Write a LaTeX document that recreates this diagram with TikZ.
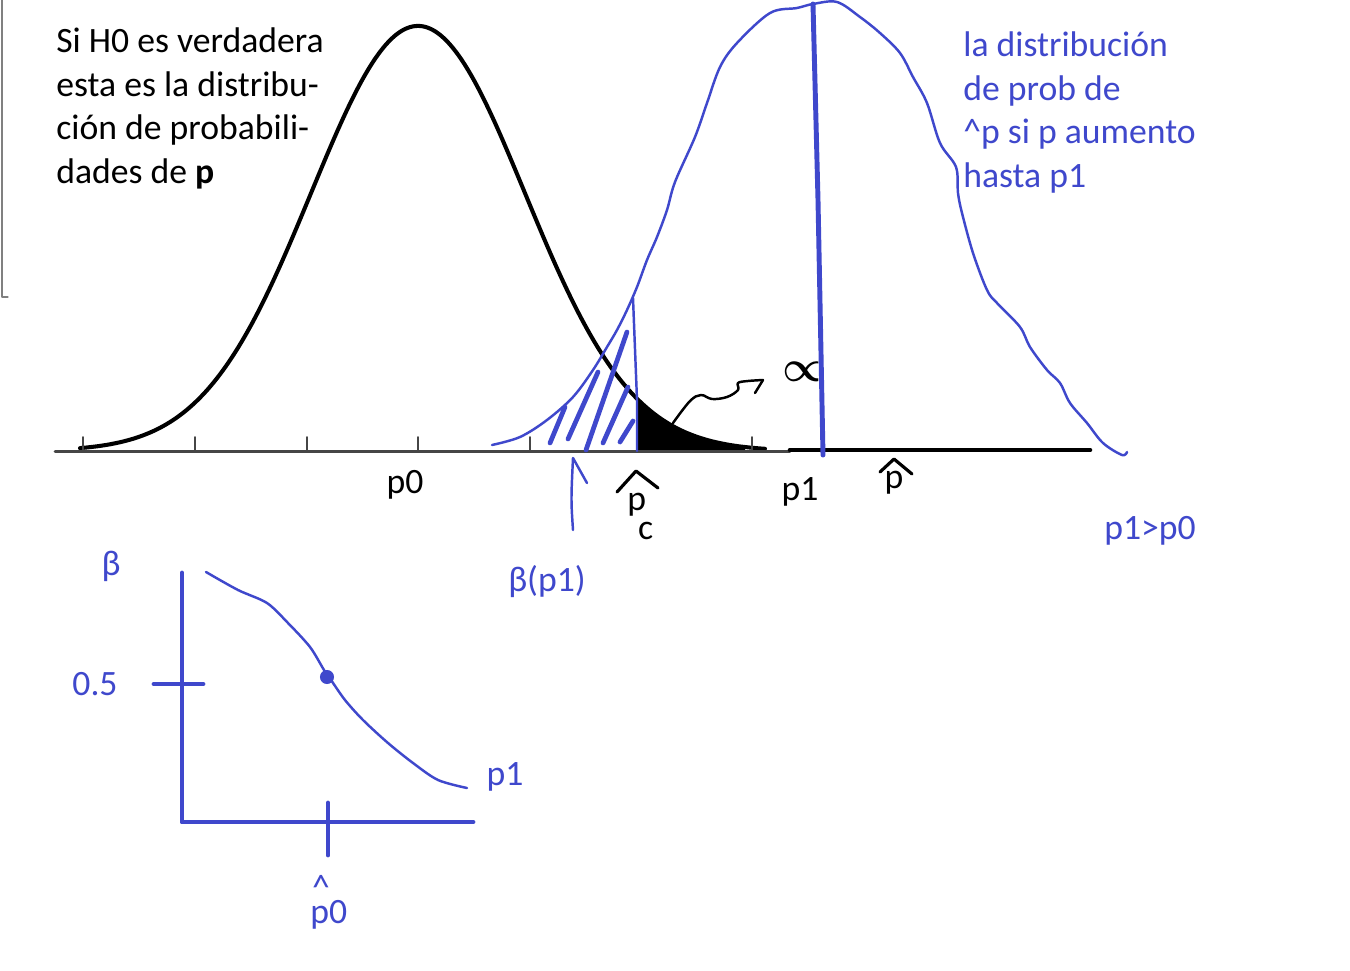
\documentclass[tikz,border=0pt]{standalone}
\usepackage{fontspec}
\setmainfont{Carlito}
\usetikzlibrary{positioning, calc}
\definecolor{penblue}{RGB}{63,72,204}
\definecolor{axisgray}{RGB}{70,70,70}

\begin{document}
\begin{tikzpicture}[x=0.02cm, y=-0.02cm, line cap=round, line join=round]
    \tikzset{
        lbl/.style={inner sep=0pt, font=\fontsize{20.3}{25}\selectfont},
        bluelbl/.style={lbl, text=penblue},
        pen/.style={penblue, line width=1.4pt},
        thickpen/.style={penblue, line width=2.8pt},
        hatch/.style={penblue, line width=2.7pt},
        hat/.style={line width=1.8pt},
    }

    % --- Page ---
    \fill[white] (0,0) rectangle (1350,971);
    \useasboundingbox (0,0) rectangle (1350,971);
    \draw[gray, line width=0.6pt] (2,0) -- (2,297) -- (8,297);

    % --- Black curve (H0 true) and the alpha area ---
    \fill plot[domain=637:745, samples=30] (\x, {451-425*exp(-0.5*((\x-418)/107)*((\x-418)/107))}) -- (745,451) -- (637,451) -- cycle;
    \draw[line width=2.3pt] plot[domain=80:765, samples=140, smooth] (\x, {451-425*exp(-0.5*((\x-418)/107)*((\x-418)/107))});

    % --- Horizontal axis with its ticks ---
    \draw[axisgray, line width=1.7pt] (55,451) -- (790,451);
    \draw[line width=2.6pt] (790,450) -- (1090,450);
    \draw[axisgray, line width=1.1pt] (83,451) -- (83,437);
    \draw[axisgray, line width=1.1pt] (195,451) -- (195,437);
    \draw[axisgray, line width=1.1pt] (307,451) -- (307,437);
    \draw[axisgray, line width=1.1pt] (418,451) -- (418,437);
    \draw[axisgray, line width=1.1pt] (530,451) -- (530,437);
    \draw[axisgray, line width=1.1pt] (752,451) -- (752,437);

    % --- Blue curve (p moved up to p1), drawn by hand ---
    \draw[pen] plot[smooth, tension=0.55] coordinates {
        (492,445) (520,437) (547,420) (573,397) (593,370) (607,347) (617,330)
        (627,310) (637,287) (647,260) (657,237) (667,210) (675,182) (695,137)
        (707,103) (720,67) (737,43) (770,13) (797,8) (813,4) (837,2) (860,17)
        (880,33) (900,53) (913,77) (927,103) (940,143) (956,167) (958,193)
        (962,213) (973,253) (987,290) (997,303) (1020,327) (1030,347)
        (1047,370) (1060,383) (1070,403) (1087,423) (1103,443) (1122,455) (1127,452)};
    \draw[thickpen] (813,4) -- (818,200) -- (823,455);

    % --- Beta area: cut at p_c and hatched ---
    \draw[pen] (633,298) -- (637,400) -- (637,451);
    \draw[hatch] (565,407) -- (550,443);
    \draw[hatch] (598,372) -- (568,439);
    \draw[hatch] (627,332) -- (586,450);
    \draw[hatch] (628,387) -- (603,443);
    \draw[hatch] (633,421) -- (620,442);
    \draw[pen] (573,530) .. controls (571,500) .. (573,458) -- (587,483);

    % --- Labels on the axis ---
    \node[lbl, anchor=base west] (pc) at (627,510) {p\kern-0.22em\raisebox{-0.82em}{c}};
    \node[lbl, anchor=base] (pzero) at (405,493) {p0};
    \node[lbl, anchor=base] (pone) at (800,500) {p1};
    \node[lbl, anchor=base] (phat) at (894,488) {p};
    \draw[hat] (617,492) -- (636,471) -- (658,488);
    \draw[hat] (880,472) -- (894,459) -- (912,474);
    \node[bluelbl, anchor=base] (cond) at (1150,539) {p1>p0};

    % --- Alpha and the wavy pointer ---
    \node[inner sep=0pt, font=\fontsize{42}{42}\selectfont\boldmath] (alpha) at (802,372) {$\propto$};
    \coordinate (alphaarea) at (673,423);
    \coordinate (alphatip) at (763,380);
    \draw[line width=1.4pt] plot[smooth, tension=0.6] coordinates {
        (alphaarea) (690,401) (701,395) (712,399) (727,397) (738,390) (738,383) (748,381) (alphatip)};
    \draw[line width=1.4pt] (alphatip) -- (755,393);

    % --- Notes ---
    \node[lbl, anchor=north west, align=left] (nullnote) at (56,27)
        {Si H0 es verdadera\\esta es la distribu-\\ción de probabili-\\dades de \textbf{p}};
    \node[bluelbl, anchor=north west, align=left] (altnote) at (963,31)
        {la distribución\\de prob de\\\textasciicircum p si p aumento\\hasta p1};

    % --- Small plot: beta against p1 ---
    \draw[thickpen] (182,573) -- (182,822) -- (473,822);
    \draw[thickpen] (154,684) -- (203,684);
    \draw[thickpen] (328,803) -- (328,855);
    \draw[pen] plot[smooth] coordinates {
        (206,572) (238,590) (267,603) (288,623) (310,647) (324,670) (331,680)
        (345,700) (363,720) (388,743) (413,763) (438,780) (467,788)};
    \fill[penblue] (327,677) circle (4pt);
    \node[bluelbl] (half) at (95,684) {0.5};
    \node[bluelbl] (betaaxis) at (111,566) {β};
    \node[bluelbl] (betaval) at (547,582) {β(p1)};
    \node[bluelbl, anchor=base] (poneaxis) at (505,785) {p1};
    \node[bluelbl, anchor=north west, align=left, font=\fontsize{20.3}{13.5}\selectfont] (pzeroaxis) at (310,875)
        {\hspace{1pt}\textasciicircum\\p0};

\end{tikzpicture}
\end{document}
